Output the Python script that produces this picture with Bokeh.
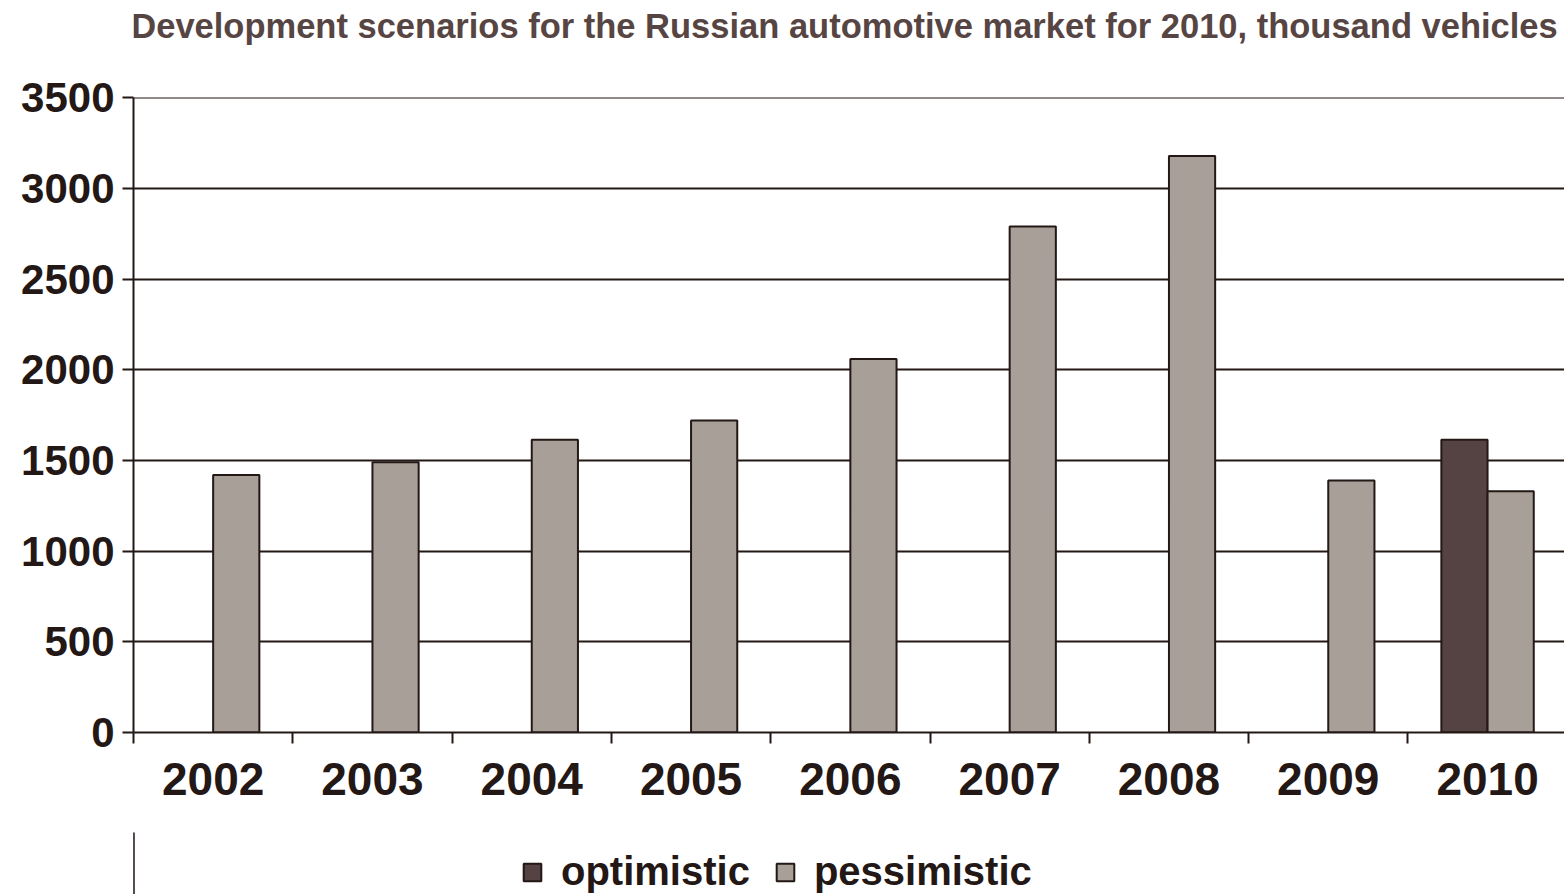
from bokeh.plotting import figure
from bokeh.layouts import column
from bokeh.models import (ColumnDataSource, Range1d, FixedTicker, Legend, LegendItem, Label)
from bokeh.transform import dodge
from bokeh.embed import file_html
from bokeh.resources import INLINE

# Russian car market, thousand vehicles
years = ["2002", "2003", "2004", "2005", "2006", "2007", "2008", "2009", "2010"]
optimistic = [None, None, None, None, None, None, None, None, 1615]
pessimistic = [1420, 1490, 1615, 1720, 2060, 2790, 3180, 1390, 1330]
y_ticks = [0, 500, 1000, 1500, 2000, 2500, 3000, 3500]
series_names = ["optimistic", "pessimistic"]
heading = "Development scenarios for the Russian automotive market for 2010, thousand vehicles"

INK = "#231815"
OPT_COLOR = "#554242"
PES_COLOR = "#a99f99"
FONT = "Liberation Sans"

centers = [i + 0.5 for i in range(len(years))]
opt_src = ColumnDataSource(dict(
    x=[c for c, v in zip(centers, optimistic) if v is not None],
    top=[v for v in optimistic if v is not None]))
pes_src = ColumnDataSource(dict(x=centers, top=pessimistic))


def strip(height, x_end, y_end):
    """Blank figure used for the heading and the legend rows."""
    s = figure(width=1564, height=height, output_backend="svg", toolbar_location=None,
               x_range=Range1d(0, x_end), y_range=Range1d(0, y_end), min_border=0)
    s.axis.visible = False
    s.grid.visible = False
    s.outline_line_color = None
    s.border_fill_color = "white"
    return s


# heading row
head = strip(50, 1431, 50)
head.add_layout(Label(x=711, y=44, text=heading,
                      text_font=FONT, text_font_size="34.5px", text_font_style="bold",
                      text_color="#574543", text_align="center", text_baseline="top"))

# main chart
p = figure(frame_width=1431, frame_height=635, output_backend="svg", toolbar_location=None,
           x_range=Range1d(0, 8.983), y_range=Range1d(0, 3502),
           min_border_left=133, min_border_right=0, min_border_top=47,
           min_border_bottom=100)
p.outline_line_color = None
p.background_fill_color = "white"
p.border_fill_color = "white"

bw = 0.29
p.vbar(x=dodge("x", -bw / 2, range=p.x_range), top="top", width=bw, bottom=0,
       source=opt_src, fill_color=OPT_COLOR, line_color=INK, line_width=2)
p.vbar(x=dodge("x", bw / 2, range=p.x_range), top="top", width=bw, bottom=0,
       source=pes_src, fill_color=PES_COLOR, line_color=INK, line_width=2)

# grid
p.xgrid.grid_line_color = None
p.ygrid.ticker = FixedTicker(ticks=y_ticks)
p.ygrid.grid_line_color = INK
p.ygrid.grid_line_width = 2

# y axis
ya = p.yaxis[0]
ya.ticker = FixedTicker(ticks=y_ticks)
ya.axis_line_color = INK
ya.axis_line_width = 2
ya.major_tick_line_color = INK
ya.major_tick_line_width = 2
ya.major_tick_out = 11
ya.major_tick_in = 0
ya.minor_tick_line_color = None
ya.major_label_text_font = FONT
ya.major_label_text_font_size = "42px"
ya.major_label_text_font_style = "bold"
ya.major_label_text_color = INK
ya.major_label_standoff = 8

# x axis: labels at category centres, ticks at category boundaries
xa = p.xaxis[0]
xa.ticker = FixedTicker(ticks=centers, minor_ticks=list(range(len(years) + 1)))
xa.major_label_overrides = {c: y for c, y in zip(centers, years)}
xa.axis_line_color = INK
xa.axis_line_width = 2
xa.major_tick_line_color = None
xa.minor_tick_line_color = INK
xa.minor_tick_line_width = 2
xa.minor_tick_out = 11
xa.minor_tick_in = 0
xa.major_label_text_font = FONT
xa.major_label_text_font_size = "46px"
xa.major_label_text_font_style = "bold"
xa.major_label_text_color = INK
xa.major_label_standoff = 19

# legend row; its key glyphs sit outside the strip's visible range
leg = strip(62, 1, 1)
key_src = ColumnDataSource(dict(x=[-1], top=[1]))
key_opt = leg.vbar(x="x", top="top", width=0.1, source=key_src,
                   fill_color=OPT_COLOR, line_color=INK, line_width=2)
key_pes = leg.vbar(x="x", top="top", width=0.1, source=key_src,
                   fill_color=PES_COLOR, line_color=INK, line_width=2)
legend = Legend(items=[LegendItem(label=series_names[0], renderers=[key_opt]),
                       LegendItem(label=series_names[1], renderers=[key_pes])],
                orientation="horizontal", location=(388, 0),
                label_text_font=FONT, label_text_font_size="40px",
                label_text_font_style="bold", label_text_color=INK,
                glyph_width=22, glyph_height=22, label_standoff=18, spacing=24,
                border_line_color=None, background_fill_alpha=0,
                padding=0, margin=0)
leg.add_layout(legend, "center")

open("out.html", "w").write(file_html(column(head, p, leg, spacing=0), INLINE))
